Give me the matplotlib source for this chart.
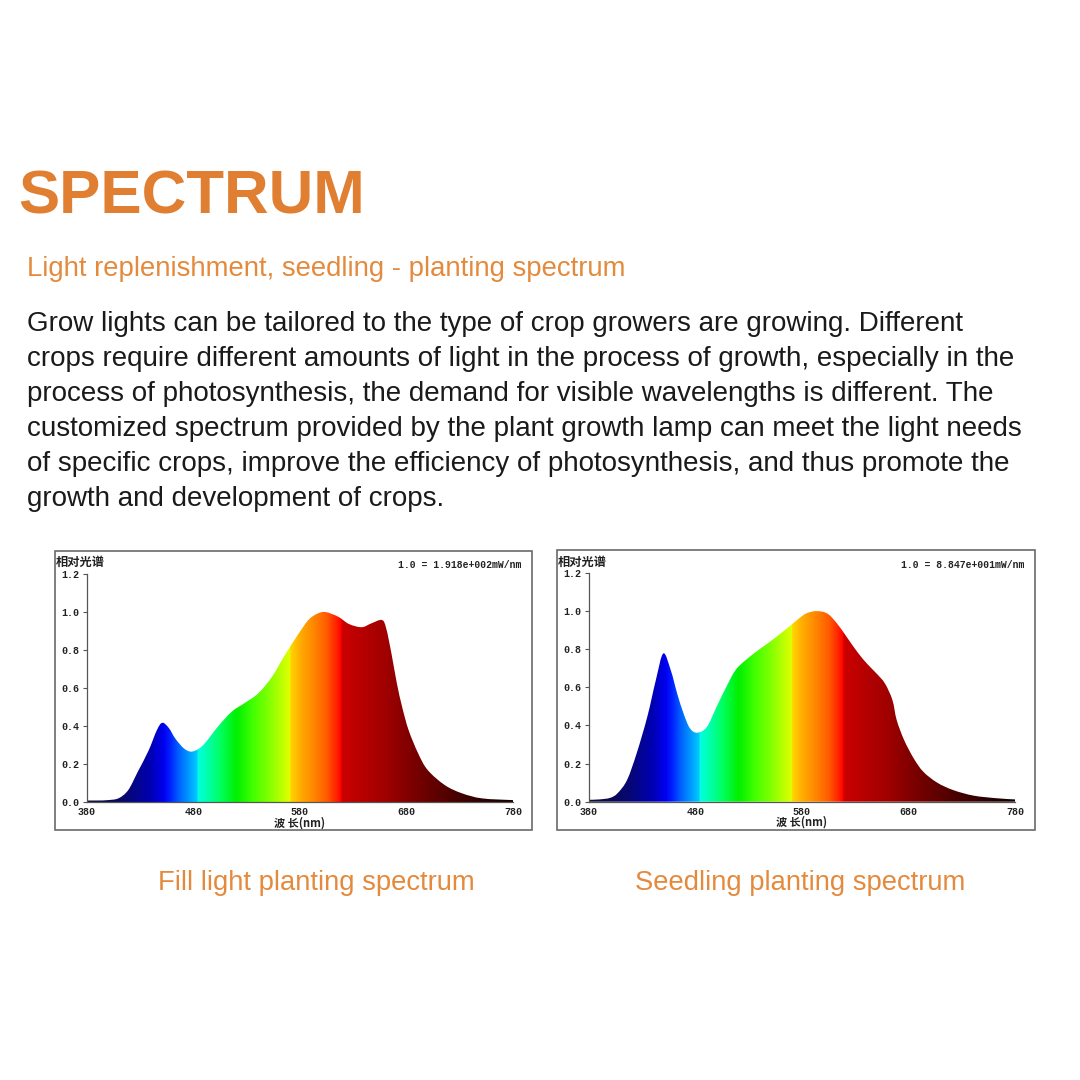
import numpy as np
import matplotlib
matplotlib.use("Agg")
import matplotlib.pyplot as plt
from matplotlib.patches import Rectangle
from matplotlib.path import Path
from matplotlib.colors import to_rgb

# ---------------- data ----------------
fill_wl = [380, 390, 400, 410, 419, 428, 438, 446, 451, 457, 463, 471, 478, 485, 491,
           503, 516, 528, 541, 554, 566, 578, 588, 596, 604, 616, 626, 638, 647, 657,
           661, 666, 671, 676, 682, 691, 700, 716, 732, 751, 780]
fill_val = [0.008, 0.008, 0.010, 0.020, 0.063, 0.160, 0.270, 0.380, 0.417, 0.390, 0.335,
            0.283, 0.265, 0.280, 0.310, 0.396, 0.475, 0.520, 0.572, 0.660, 0.774, 0.879,
            0.958, 0.990, 1.000, 0.975, 0.937, 0.920, 0.940, 0.958, 0.914, 0.780, 0.625,
            0.500, 0.379, 0.256, 0.168, 0.089, 0.046, 0.019, 0.010]

seed_wl = [380, 390, 400, 407, 416, 425, 435, 443, 450, 457, 463, 469, 475, 482, 491,
           500, 510, 519, 535, 550, 566, 578, 585, 594, 604, 613, 622, 632, 641, 650,
           658, 665, 669, 676, 685, 694, 707, 722, 741, 763, 780]
seed_val = [0.010, 0.012, 0.020, 0.044, 0.114, 0.254, 0.446, 0.638, 0.778, 0.690, 0.568,
            0.463, 0.385, 0.362, 0.393, 0.498, 0.612, 0.699, 0.778, 0.839, 0.909, 0.965,
            0.990, 1.000, 0.987, 0.935, 0.865, 0.786, 0.725, 0.673, 0.620, 0.533, 0.428,
            0.323, 0.227, 0.157, 0.100, 0.061, 0.032, 0.018, 0.012]

x_ticks = [380, 480, 580, 680, 780]
y_ticks = [0.0, 0.2, 0.4, 0.6, 0.8, 1.0, 1.2]
y_ticklabels = ["0.0", "0.2", "0.4", "0.6", "0.8", "1.0", "1.2"]

title = "SPECTRUM"
subtitle = "Light replenishment, seedling - planting spectrum"
body_lines = [
    "Grow lights can be tailored to the type of crop growers are growing. Different",
    "crops require different amounts of light in the process of growth, especially in the",
    "process of photosynthesis, the demand for visible wavelengths is different. The",
    "customized spectrum provided by the plant growth lamp can meet the light needs",
    "of specific crops, improve the efficiency of photosynthesis, and thus promote the",
    "growth and development of crops.",
]
captions = ["Fill light planting spectrum", "Seedling planting spectrum"]
scale_notes = ["1.0 = 1.918e+002mW/nm", "1.0 = 8.847e+001mW/nm"]
y_title = "相对光谱"
x_title = "波 长(nm)"

# ---------------- style ----------------
ORANGE = "#E07F31"
ORANGE2 = "#E48A3C"
W = H = 1080.0

grad_stops = [
    (380, "#101030"), (400, "#0a0a50"), (420, "#06067a"), (440, "#0000b4"),
    (452, "#0000f0"), (458, "#0020ff"), (466, "#0060ff"), (475, "#0098ff"),
    (483, "#00c8ff"), (484, "#00ffe0"), (495, "#00ffa0"), (505, "#00ff60"),
    (520, "#00f000"), (535, "#40ff00"), (550, "#80ff00"), (565, "#c8ff00"),
    (570, "#e0ff00"), (571, "#ffd400"), (580, "#ffac00"), (592, "#ff8800"),
    (605, "#ff5a00"), (614, "#ff2000"), (618, "#ff0000"), (619, "#cc0000"),
    (640, "#b40000"), (660, "#a00000"), (680, "#820000"), (700, "#680000"),
    (730, "#420000"), (760, "#220000"), (780, "#100000"),
]
gs_w = np.array([s[0] for s in grad_stops], float)
gs_c = np.array([to_rgb(s[1]) for s in grad_stops])
grid = np.arange(380, 780.25, 0.25)
rgb = np.stack([np.interp(grid, gs_w, gs_c[:, k]) for k in range(3)], axis=-1)
grad_img = rgb[np.newaxis, :, :]

MONO = "Liberation Mono"
CJK = ["Noto Sans CJK SC", "DejaVu Sans"]
SANS = "Liberation Sans"


def smooth_area_path(xs, ys):
    """Closed area under a smooth (Catmull-Rom bezier) curve through the points."""
    P = np.column_stack([xs, ys]).astype(float)
    n = len(P)
    verts = [(P[0, 0], 0.0), tuple(P[0])]
    codes = [Path.MOVETO, Path.LINETO]
    for i in range(n - 1):
        p0 = P[i - 1] if i > 0 else P[i]
        p1, p2 = P[i], P[i + 1]
        p3 = P[i + 2] if i + 2 < n else P[i + 1]
        c1 = p1 + (p2 - p0) / 6.0
        c2 = p2 - (p3 - p1) / 6.0
        c1[1] = max(c1[1], 0.0)
        c2[1] = max(c2[1], 0.0)
        verts += [tuple(c1), tuple(c2), tuple(p2)]
        codes += [Path.CURVE4] * 3
    verts += [(P[-1, 0], 0.0), (P[0, 0], 0.0)]
    codes += [Path.LINETO, Path.CLOSEPOLY]
    return Path(verts, codes)


fig = plt.figure(figsize=(10.8, 10.8), dpi=100)
fig.patch.set_facecolor("white")


def fx(px):
    return px / W


def fy(py):
    return 1 - py / H


# headline texts
fig.text(fx(18), fy(213), title, fontsize=44.6, fontweight="bold", family=SANS,
         color=ORANGE, va="baseline", ha="left")
fig.text(fx(27), fy(276), subtitle, fontsize=19.8, family=SANS, color=ORANGE2,
         va="baseline", ha="left")
for i, line in enumerate(body_lines):
    fig.text(fx(27), fy(331 + 35 * i), line, fontsize=20, family=SANS,
             color="#1a1a1a", va="baseline", ha="left")

charts = [
    dict(wl=fill_wl, val=fill_val, box=(55, 551, 532, 830), ax=(86.7, 574, 513, 802),
         note=scale_notes[0], cap=captions[0], capx=316),
    dict(wl=seed_wl, val=seed_val, box=(557, 550, 1035, 830), ax=(588.7, 573, 1015, 801.7),
         note=scale_notes[1], cap=captions[1], capx=800),
]

for ch in charts:
    bx0, by0, bx1, by1 = ch["box"]
    fig.add_artist(Rectangle((fx(bx0), fy(by1)), (bx1 - bx0) / W, (by1 - by0) / H,
                             transform=fig.transFigure, fill=False, ec="#6a6a6a", lw=1.2))
    ax0, ay0, ax1, ay1 = ch["ax"]
    ax = fig.add_axes([fx(ax0), fy(ay1), (ax1 - ax0) / W, (ay1 - ay0) / H])
    ax.set_xlim(380, 780)
    ax.set_ylim(0, 1.2)
    ax.set_facecolor("none")
    im = ax.imshow(grad_img, extent=[380, 780, 0, 1.2], aspect="auto",
                   interpolation="nearest", origin="lower", zorder=1)
    im.set_clip_path(smooth_area_path(ch["wl"], ch["val"]), transform=ax.transData)
    for s in ["top", "right"]:
        ax.spines[s].set_visible(False)
    for s in ["left", "bottom"]:
        ax.spines[s].set_color("#555555")
        ax.spines[s].set_linewidth(0.9)
        ax.spines[s].set_zorder(3)
    ax.set_xticks(x_ticks)
    ax.set_xticklabels([str(t) for t in x_ticks])
    ax.set_yticks(y_ticks)
    ax.set_yticklabels(y_ticklabels)
    ax.tick_params(axis="y", direction="out", length=3, width=0.8, color="#555555",
                   pad=2.0, labelsize=7.2)
    ax.tick_params(axis="x", length=0, pad=3.5, labelsize=7.2)
    for lab in ax.get_xticklabels() + ax.get_yticklabels():
        lab.set_family(MONO)
        lab.set_fontweight("bold")
        lab.set_color("#222222")
    ax.set_xlabel(x_title, family=CJK, fontsize=8, fontweight="bold",
                  labelpad=-0.5, color="#222222")
    # chart annotations
    fig.text(fx(bx0 + 1), fy(562), y_title, family=CJK, fontsize=8.8, fontweight="bold",
             color="#222222", va="center", ha="left")
    fig.text(fx(bx1 - 11), fy(565), ch["note"], family=MONO, fontsize=7,
             fontweight="bold", color="#222222", va="center", ha="right")
    fig.text(fx(ch["capx"]), fy(890), ch["cap"], family=SANS, fontsize=19.7,
             color=ORANGE2, va="baseline", ha="center")

fig.savefig("out.png", dpi=100, facecolor="white")
